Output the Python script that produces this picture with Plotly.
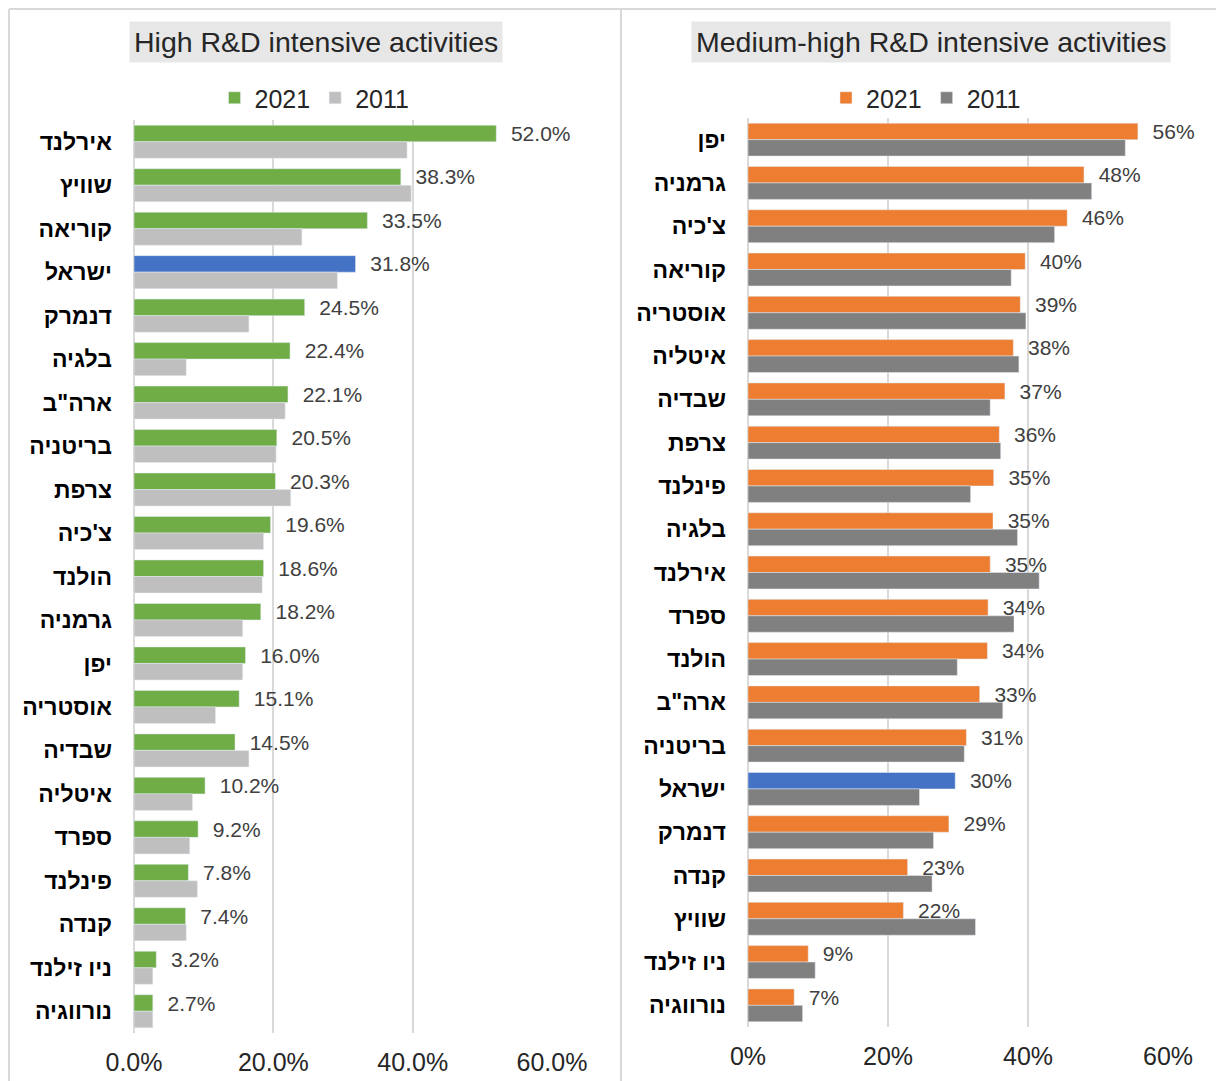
import plotly.graph_objects as go

# High R&D intensive activities (share, %)
high_countries = ['אירלנד', 'שוויץ', 'קוריאה', 'ישראל', 'דנמרק', 'בלגיה', 'ארה"ב',
                  'בריטניה', 'צרפת', "צ'כיה", 'הולנד', 'גרמניה', 'יפן', 'אוסטריה',
                  'שבדיה', 'איטליה', 'ספרד', 'פינלנד', 'קנדה', 'ניו זילנד', 'נורווגיה']
high_2021 = [52.0, 38.3, 33.5, 31.8, 24.5, 22.4, 22.1, 20.5, 20.3, 19.6, 18.6,
             18.2, 16.0, 15.1, 14.5, 10.2, 9.2, 7.8, 7.4, 3.2, 2.7]
high_2011 = [39.2, 39.8, 24.1, 29.2, 16.5, 7.5, 21.7, 20.4, 22.5, 18.6, 18.4,
             15.6, 15.6, 11.7, 16.5, 8.4, 8.0, 9.1, 7.5, 2.7, 2.7]

# Medium-high R&D intensive activities (share, %)
med_countries = ['יפן', 'גרמניה', "צ'כיה", 'קוריאה', 'אוסטריה', 'איטליה', 'שבדיה',
                 'צרפת', 'פינלנד', 'בלגיה', 'אירלנד', 'ספרד', 'הולנד', 'ארה"ב',
                 'בריטניה', 'ישראל', 'דנמרק', 'קנדה', 'שוויץ', 'ניו זילנד', 'נורווגיה']
med_2021 = [55.7, 48.0, 45.6, 39.6, 38.9, 37.9, 36.7, 35.9, 35.1, 35.0, 34.6,
            34.3, 34.2, 33.1, 31.2, 29.6, 28.7, 22.8, 22.2, 8.6, 6.6]
med_2011 = [53.9, 49.1, 43.8, 37.6, 39.7, 38.7, 34.6, 36.1, 31.8, 38.5, 41.6,
            38.0, 29.9, 36.4, 30.9, 24.5, 26.5, 26.3, 32.5, 9.6, 7.8]

x_ticks = [0, 0.2, 0.4, 0.6]

GREEN = '#70AD47'
LIGHT_GRAY = '#BFBFBF'
ORANGE = '#ED7D31'
DARK_GRAY = '#808080'
BLUE = '#4472C4'
FONT = 'Liberation Sans, Arial, sans-serif'

W, H = 1224, 1081


def px(x):
    # page pixel -> paper x (page body has an 8px margin)
    return (x - 8) / W


def py(y):
    return 1 - (y - 8) / H


fig = go.Figure()

high_colors = [BLUE if c == 'ישראל' else GREEN for c in high_countries]
med_colors = [BLUE if c == 'ישראל' else ORANGE for c in med_countries]

label_font = dict(family=FONT, size=21, color='#404040')

fig.add_trace(go.Bar(
    y=high_countries, x=[v / 100 for v in high_2021], name='2021', orientation='h',
    marker=dict(color=high_colors), texttemplate='\u00a0\u00a0%{x:.1%}',
    textposition='outside', textfont=label_font, constraintext='none',
    cliponaxis=False, xaxis='x', yaxis='y', legend='legend'
))
fig.add_trace(go.Bar(
    y=high_countries, x=[v / 100 for v in high_2011], name='2011', orientation='h',
    marker=dict(color=LIGHT_GRAY), xaxis='x', yaxis='y', legend='legend'
))
fig.add_trace(go.Bar(
    y=med_countries, x=[v / 100 for v in med_2021], name='2021', orientation='h',
    marker=dict(color=med_colors), texttemplate='\u00a0\u00a0%{x:.0%}',
    textposition='outside', textfont=label_font, constraintext='none',
    cliponaxis=False, xaxis='x2', yaxis='y2', legend='legend2'
))
fig.add_trace(go.Bar(
    y=med_countries, x=[v / 100 for v in med_2011], name='2011', orientation='h',
    marker=dict(color=DARK_GRAY), xaxis='x2', yaxis='y2', legend='legend2'
))

xaxis_common = dict(
    range=[0, 0.6], tickvals=x_ticks, showgrid=True, gridcolor='#D9D9D9', gridwidth=1.5,
    zeroline=True, zerolinecolor='#D9D9D9', zerolinewidth=1.5, showline=False,
    tickfont=dict(family=FONT, size=25, color='#262626'), automargin=False,
    ticklabelstandoff=12, fixedrange=True
)
yaxis_common = dict(
    type='category', autorange='reversed', showgrid=False, showline=False,
    tickfont=dict(family=FONT, size=23, color='#000000', weight='bold'),
    ticklabelstandoff=21, automargin=False, fixedrange=True
)

legend_common = dict(
    orientation='h', yanchor='middle', xanchor='center', y=py(98),
    font=dict(family=FONT, size=25, color='#262626'), bgcolor='rgba(0,0,0,0)',
    itemclick=False, itemdoubleclick=False
)

title_common = dict(
    xref='paper', yref='paper', showarrow=False, xanchor='center', yanchor='middle',
    y=py(42), font=dict(family=FONT, size=28.5, color='#262626'),
    bgcolor='#E7E7E7', borderpad=4
)

fig.update_layout(
    width=W, height=H,
    margin=dict(l=0, r=0, t=0, b=0),
    paper_bgcolor='white', plot_bgcolor='white',
    barmode='group', bargap=0.24, bargroupgap=0,
    font=dict(family=FONT),
    xaxis=dict(domain=[px(134), px(552)], anchor='y', tickformat='.1%', **xaxis_common),
    xaxis2=dict(domain=[px(748), px(1168)], anchor='y2', tickformat='.0%', **xaxis_common),
    yaxis=dict(domain=[py(1033), py(120)], anchor='x', **yaxis_common),
    yaxis2=dict(domain=[py(1027), py(118)], anchor='x2', **yaxis_common),
    legend=dict(x=px(314.5), **legend_common),
    legend2=dict(x=px(926), **legend_common),
    annotations=[
        dict(text='High R&D intensive activities', x=px(315.5), **title_common),
        dict(text='Medium-high R&D intensive activities', x=px(930.5), **title_common),
    ],
    shapes=[
        dict(type='line', xref='paper', yref='paper', x0=px(9), x1=1, y0=py(9), y1=py(9),
             line=dict(color='#D9D9D9', width=2)),
        dict(type='line', xref='paper', yref='paper', x0=px(9), x1=px(9), y0=0, y1=py(9),
             line=dict(color='#D9D9D9', width=2)),
        dict(type='line', xref='paper', yref='paper', x0=px(621), x1=px(621), y0=0, y1=py(9),
             line=dict(color='#D9D9D9', width=2)),
    ],
)

fig.write_html('out.html')
